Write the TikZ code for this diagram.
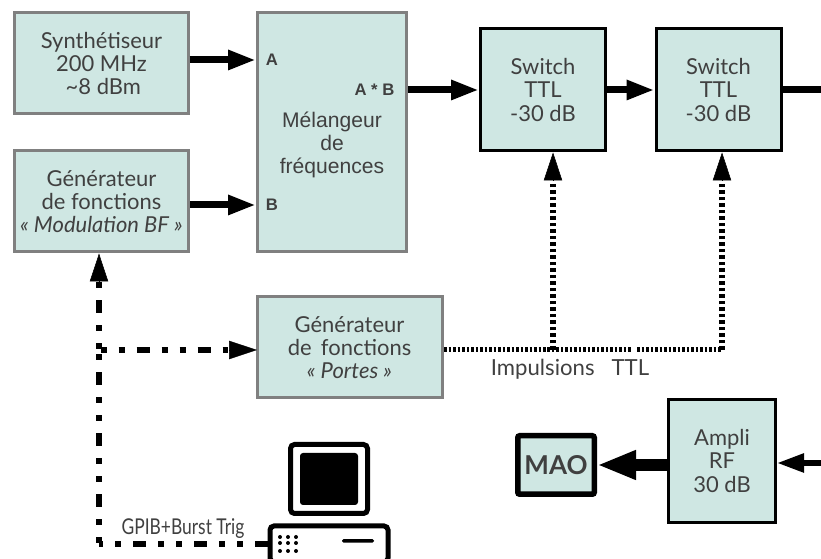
\documentclass[tikz,border=0pt]{standalone}
\usepackage{fontspec}
\setmainfont{Lato}
\newfontfamily\mixfont{Liberation Sans}
\newfontfamily\condfont[FakeStretch=0.8]{Lato}
\usetikzlibrary{arrows.meta}
\definecolor{boxfill}{HTML}{CFE7E3}
\definecolor{boxtext}{HTML}{404040}
\definecolor{boxgray}{HTML}{808080}
\tikzstyle{grayblock} = [draw=boxgray, line width=0.06cm, fill=boxfill, text=boxtext, align=center, font=\fontsize{12.5}{13.2}\selectfont]
\tikzstyle{blackblock} = [grayblock, draw=black]
\tikzstyle{portlabel} = [text=boxtext, font=\mixfont\fontsize{9.5}{10}\selectfont\bfseries]
\tikzstyle{tip} = [-{Triangle[length=0.56cm, width=0.37cm]}]
\tikzstyle{signal} = [line width=0.14cm, tip]
\tikzstyle{trigger} = [line width=0.12cm, dash pattern=on 0.26cm off 0.24cm on 0.12cm off 0.24cm on 0.12cm off 0.24cm]

\begin{document}
\begin{tikzpicture}
      \useasboundingbox[clip] (0, 0) rectangle (16.42, 11.18);
      \node[grayblock, minimum width=3.46cm, minimum height=2.02cm] (synth) at (2.03, 9.91) {Synthétiseur\\200 MHz\\\,\textasciitilde8 dBm};
      \node[grayblock, minimum width=3.46cm, minimum height=2.02cm] (genbf) at (2.03, 7.15) {Générateur\\de fonctions\\\textit{« Modulation BF »}};
      \node[grayblock, minimum width=2.98cm, minimum height=4.78cm] (mixer) at (6.64, 8.53) {};
      \node[text=boxtext, align=center, font=\mixfont\fontsize{12}{13.2}\selectfont] (mixtext) at (6.64, 8.28) {Mélangeur\\de\\fréquences};
      \node[portlabel] (porta) at (5.44, 9.98) {A};
      \node[portlabel] (portb) at (5.44, 7.08) {B};
      \node[portlabel] (portab) at (7.49, 9.38) {A * B};
      \coordinate (ina) at (mixer.west |- porta);
      \coordinate (inb) at (mixer.west |- portb);
      \node[blackblock, minimum width=2.5cm, minimum height=2.44cm] (switcha) at (10.86, 9.38) {Switch\\TTL\\-30 dB};
      \node[blackblock, minimum width=2.5cm, minimum height=2.44cm] (switchb) at (14.37, 9.38) {Switch\\TTL\\-30 dB};
      \coordinate (outrf) at (16.42, 9.38);
      \node[grayblock, minimum width=3.7cm, minimum height=2.02cm] (portes) at (6.99, 4.23) {Générateur\\de\, fonctions\\\textit{« Portes »}};
      \coordinate (inportes) at (5.14, 4.18);
      \coordinate (outportes) at (8.88, 4.18);
      \coordinate (branch) at (11.06, 4.18);
      \coordinate (gapleft) at (12.64, 4.18);
      \coordinate (gapright) at (12.74, 4.18);
      \coordinate (corner) at (14.44, 4.18);
      \node[blackblock, minimum width=2.14cm, minimum height=2.46cm] (ampli) at (14.44, 1.96) {Ampli\\RF\\30 dB};
      \node[blackblock, line width=0.11cm, minimum width=1.53cm, minimum height=1.17cm, rounded corners=0.04cm, font=\bfseries\fontsize{14.8}{16}\selectfont] (mao) at (11.12, 1.88) {MAO};
      \coordinate (inrf) at (16.42, 1.92);
      \coordinate (inampli) at (ampli.east |- inrf);
      \node[draw, line width=0.1cm, minimum width=1.54cm, minimum height=1.38cm, rounded corners=0.08cm] (monitor) at (6.58, 1.6) {};
      \node[fill=black, minimum width=1.16cm, minimum height=1.04cm, rounded corners=0.06cm] (screen) at (monitor.center) {};
      \node[draw, line width=0.1cm, minimum width=2.36cm, minimum height=0.72cm, rounded corners=0.08cm] (pcbase) at (6.58, 0.3) {};
      \node[fill=black, inner sep=0pt, minimum width=0.64cm, minimum height=0.07cm, rounded corners=0.03cm] (pcslot) at (7.16, 0.36) {};
      \foreach \x in {5.6, 5.76, 5.92}
        \foreach \y in {0.44, 0.32, 0.16}
          \fill (\x, \y) circle (0.04cm);
      \coordinate (bend) at (1.98, 0.3);
      \coordinate (fork) at (1.98, 4.18);
      \node[text=boxtext, font=\condfont\fontsize{12.4}{13}\selectfont] (gpib) at (3.66, 0.6) {GPIB+Burst Trig};
      \node[text=boxtext, font=\fontsize{12.6}{13}\selectfont] (pulses) at (11.4, 3.8) {Impulsions\ \ \ TTL};
      \draw[signal] (synth.east |- ina) -- (ina);
      \draw[signal] (genbf.east |- inb) -- (inb);
      \draw[signal] (mixer.east |- switcha) -- (switcha);
      \draw[signal] (switcha) -- (switchb);
      \draw[line width=0.14cm] (switchb) -- (outrf);
      \draw[line width=0.11cm, -{Triangle[length=0.54cm, width=0.36cm]}] (inrf) -- (inampli);
      \draw[line width=0.23cm, -{Triangle[length=0.78cm, width=0.54cm]}] (ampli.west |- mao) -- (mao);
      \draw[trigger] (pcbase.west) -- (bend);
      \draw[trigger, dash phase=0.48cm] (bend) -- (fork);
      \draw[trigger, dash phase=0.48cm] (fork) -- (1.98, 5.6);
      \draw[line width=0.01cm, tip] (1.98, 5.55) -- (fork |- genbf.south);
      \draw[trigger, dash phase=0.47cm] (fork) -- (4.55, 4.18);
      \draw[line width=0.01cm, tip] (4.58, 4.18) -- (inportes);
      \draw[line width=0.1cm, dash pattern=on 0.05cm off 0.04cm] (outportes) -- (gapleft);
      \draw[line width=0.1cm, dash pattern=on 0.05cm off 0.04cm] (gapright) -- (corner);
      \draw[line width=0.13cm, dash pattern=on 0.07cm off 0.06cm] (corner) -- (14.44, 7.52);
      \draw[line width=0.13cm, dash pattern=on 0.07cm off 0.06cm] (branch) -- (11.06, 7.52);
      \draw[line width=0.01cm, tip] (14.44, 7.58) -- (corner |- switchb.south);
      \draw[line width=0.01cm, tip] (11.06, 7.58) -- (branch |- switcha.south);
    \end{tikzpicture}
\end{document}
